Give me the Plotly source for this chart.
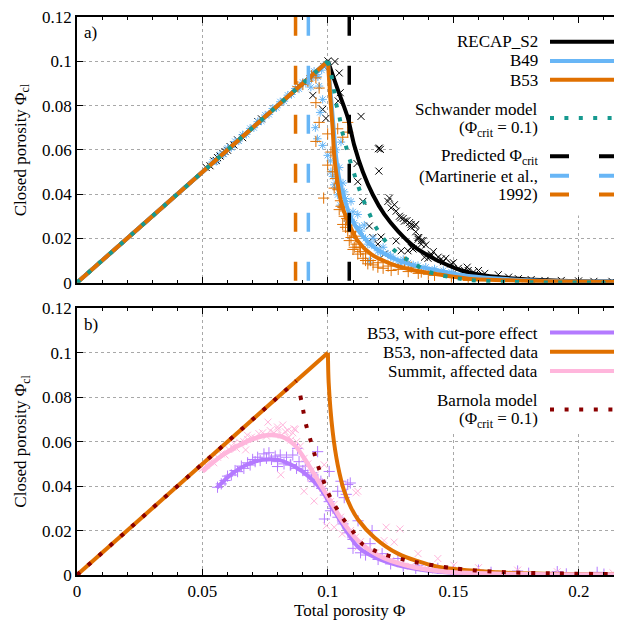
import plotly.graph_objects as go

FONT = "Liberation Serif"

# ---------------- panel a) data ----------------
rise_phi = [0.0, 0.1]
rise_cl = [0.0, 0.1]

recap_fit_phi = [0.1000, 0.1040, 0.1079, 0.1105, 0.1139, 0.1179, 0.1225, 0.1279, 0.1345, 0.1412, 0.1452, 0.1532, 0.1625, 0.1759, 0.1959, 0.2172]
recap_fit_cl = [0.1000, 0.0870, 0.0746, 0.0620, 0.0501, 0.0397, 0.0308, 0.0233, 0.0162, 0.0115, 0.0092, 0.0055, 0.0033, 0.0018, 0.0008, 0.0005]

b49_fit_phi = [0.1000, 0.1012, 0.1023, 0.1032, 0.1045, 0.1065, 0.1092, 0.1132, 0.1185, 0.1252, 0.1345, 0.1425, 0.1559, 0.1825, 0.2172]
b49_fit_cl = [0.1000, 0.0843, 0.0695, 0.0575, 0.0471, 0.0382, 0.0293, 0.0219, 0.0159, 0.0115, 0.0077, 0.0058, 0.0030, 0.0010, 0.0004]

b53_fit_phi = [0.1000, 0.1009, 0.1019, 0.1025, 0.1036, 0.1052, 0.1079, 0.1119, 0.1172, 0.1252, 0.1345, 0.1425, 0.1559, 0.1825, 0.2172]
b53_fit_cl = [0.1000, 0.0843, 0.0695, 0.0575, 0.0471, 0.0367, 0.0278, 0.0189, 0.0129, 0.0085, 0.0055, 0.0040, 0.0018, 0.0008, 0.0003]

schw_phi = [0.1000, 0.1012, 0.1023, 0.1032, 0.1045, 0.1056, 0.1085, 0.1119, 0.1139, 0.1161, 0.1185, 0.1216, 0.1252, 0.1292, 0.1345, 0.1399, 0.1452, 0.1566, 0.1739, 0.2172]
schw_cl = [0.1000, 0.0947, 0.0880, 0.0813, 0.0754, 0.0687, 0.0563, 0.0442, 0.0379, 0.0323, 0.0263, 0.0207, 0.0159, 0.0122, 0.0085, 0.0050, 0.0033, 0.0012, 0.0003, 0.0000]

crit_phi = [0.1085, 0.0922, 0.0871]   # RECAP_S2, B49, B53

recap_pts_phi = [0.0515, 0.0530, 0.0545, 0.0555, 0.0560, 0.0570, 0.0580, 0.0590, 0.0600, 0.0610, 0.0625, 0.0640, 0.0660, 0.0720, 0.0735,
                 0.0940, 0.0979, 0.0992, 0.0985, 0.1000, 0.1028, 0.1045, 0.1049, 0.1041, 0.1132, 0.1201, 0.1205, 0.1209, 0.1203, 0.1116,
                 0.1119, 0.1139, 0.1165, 0.1179, 0.1212, 0.1199, 0.1225, 0.1239, 0.1245, 0.1252, 0.1265, 0.1272, 0.1285, 0.1305, 0.1325,
                 0.1345, 0.1350, 0.1272, 0.1292, 0.1319, 0.1339, 0.1359, 0.1362, 0.1372, 0.1379, 0.1385, 0.1399, 0.1412, 0.1439, 0.1460,
                 0.1492, 0.1520, 0.1545, 0.1580, 0.1625, 0.1679, 0.1720, 0.1759, 0.1810, 0.1865, 0.1930, 0.1999, 0.2060, 0.2132,
                 0.1290, 0.1332, 0.1359, 0.1372, 0.1332, 0.1412, 0.1452, 0.1559,
                 0.1300, 0.1315, 0.1330, 0.1350, 0.1390, 0.1420, 0.1470, 0.1500, 0.1555, 0.1600]
recap_pts_cl = [0.0520, 0.0528, 0.0550, 0.0552, 0.0565, 0.0572, 0.0585, 0.0592, 0.0598, 0.0615, 0.0622, 0.0645, 0.0655, 0.0728, 0.0740,
                0.0846, 0.0783, 0.0742, 0.0975, 0.1002, 0.0999, 0.0947, 0.0858, 0.0821, 0.0751, 0.0605, 0.0608, 0.0602, 0.0504, 0.0538,
                0.0456, 0.0367, 0.0256, 0.0204, 0.0206, 0.0174, 0.0129, 0.0367, 0.0382, 0.0338, 0.0352, 0.0323, 0.0300, 0.0278, 0.0271,
                0.0256, 0.0263, 0.0189, 0.0144, 0.0144, 0.0152, 0.0196, 0.0204, 0.0174, 0.0190, 0.0115, 0.0110, 0.0129, 0.0115, 0.0095,
                0.0085, 0.0065, 0.0055, 0.0048, 0.0042, 0.0036, 0.0025, 0.0018, 0.0014, 0.0010, 0.0010, 0.0008, 0.0006, 0.0006,
                0.0293, 0.0263, 0.0204, 0.0190, 0.0159, 0.0122, 0.0107, 0.0055,
                0.0290, 0.0280, 0.0250, 0.0230, 0.0170, 0.0140, 0.0110, 0.0090, 0.0070, 0.0055]

b49_pts_phi = [0.0540, 0.0555, 0.0570, 0.0585, 0.0600, 0.0615, 0.0630, 0.0645, 0.0660, 0.0675, 0.0690, 0.0705, 0.0720, 0.0735, 0.0750,
               0.0765, 0.0780, 0.0795, 0.0810, 0.0825, 0.0840, 0.0855, 0.0870, 0.0885, 0.0900, 0.0912, 0.0925, 0.0935, 0.0945, 0.0955,
               0.0965, 0.0979, 0.0969, 0.0960, 0.0975, 0.0990, 0.0932, 0.0950, 0.0958,
               0.0979, 0.0999, 0.1012, 0.1025, 0.1039, 0.1052, 0.1032, 0.1045, 0.1060, 0.1070, 0.1092, 0.1079, 0.1100, 0.1119, 0.1132,
               0.1145, 0.1159, 0.1165, 0.1180, 0.1199, 0.1220, 0.1239, 0.1260, 0.1279, 0.1292, 0.1320, 0.1359, 0.1390, 0.1425, 0.1460,
               0.1492, 0.1540, 0.1600,
               0.1010, 0.1020, 0.1035, 0.1050, 0.1065, 0.1085, 0.1105, 0.1125, 0.1150, 0.1175, 0.1210, 0.1250, 0.1300, 0.1340]
b49_pts_cl = [0.0545, 0.0548, 0.0578, 0.0580, 0.0608, 0.0610, 0.0638, 0.0640, 0.0668, 0.0670, 0.0697, 0.0700, 0.0727, 0.0730, 0.0757,
              0.0760, 0.0787, 0.0790, 0.0817, 0.0820, 0.0847, 0.0850, 0.0877, 0.0875, 0.0905, 0.0900, 0.0915, 0.0925, 0.0955, 0.0940,
              0.0888, 0.0828, 0.0769, 0.0930, 0.0960, 0.0985, 0.0883, 0.0700, 0.0650,
              0.0620, 0.0575, 0.0501, 0.0442, 0.0397, 0.0635, 0.0600, 0.0520, 0.0450, 0.0380, 0.0367, 0.0278, 0.0320, 0.0308, 0.0233,
              0.0260, 0.0174, 0.0099, 0.0200, 0.0144, 0.0160, 0.0129, 0.0110, 0.0099, 0.0085, 0.0090, 0.0077, 0.0070, 0.0062, 0.0055,
              0.0048, 0.0035, 0.0025,
              0.0550, 0.0480, 0.0430, 0.0350, 0.0410, 0.0300, 0.0270, 0.0250, 0.0200, 0.0170, 0.0135, 0.0120, 0.0105, 0.0080]

b53_pts_phi = [0.0880, 0.0900, 0.0920, 0.0935, 0.0952, 0.0965, 0.0952, 0.0965, 0.0952, 0.0999, 0.1012, 0.0999, 0.1019, 0.0983,
               0.1025, 0.1052, 0.1059, 0.1079, 0.1092, 0.1112, 0.1119, 0.1159, 0.1199, 0.1252, 0.1039, 0.1079, 0.1079, 0.1059,
               0.1065, 0.1085, 0.1100, 0.1140, 0.1180, 0.1220, 0.1305, 0.1332, 0.1372, 0.1425, 0.1492, 0.1559, 0.1050, 0.1030,
               0.1070, 0.1095, 0.1105, 0.1130, 0.1150,
               0.1040, 0.1045, 0.1060, 0.1075, 0.1090, 0.1110, 0.1125, 0.1150, 0.1170, 0.1200, 0.1240, 0.1280, 0.1320, 0.1360, 0.1400]
b53_pts_cl = [0.0885, 0.0895, 0.0910, 0.0935, 0.0925, 0.0879, 0.0813, 0.0724, 0.0638, 0.0672, 0.0590, 0.0531, 0.0501, 0.0382,
              0.0427, 0.0345, 0.0263, 0.0233, 0.0204, 0.0174, 0.0129, 0.0085, 0.0070, 0.0055, 0.0695, 0.0724, 0.0680, 0.0657,
              0.0300, 0.0190, 0.0150, 0.0110, 0.0080, 0.0065, 0.0092, 0.0070, 0.0048, 0.0033, 0.0025, 0.0010, 0.0370, 0.0470,
              0.0250, 0.0230, 0.0160, 0.0140, 0.0100,
              0.0420, 0.0330, 0.0340, 0.0290, 0.0260, 0.0210, 0.0160, 0.0130, 0.0100, 0.0090, 0.0075, 0.0060, 0.0050, 0.0042, 0.0038]

# ---------------- panel b) data ----------------
barnola_rise_phi = [0.0, 0.0874]
barnola_rise_cl = [0.0, 0.0874]
barnola_phi = [0.0890, 0.0901, 0.0912, 0.0928, 0.0943, 0.0959, 0.0979, 0.0999, 0.1025, 0.1057, 0.1097, 0.1136, 0.1216, 0.1343, 0.1502, 0.1660, 0.1914, 0.2172]
barnola_cl = [0.0807, 0.0743, 0.0680, 0.0617, 0.0558, 0.0496, 0.0434, 0.0374, 0.0318, 0.0259, 0.0200, 0.0141, 0.0096, 0.0059, 0.0030, 0.0015, 0.0007, 0.0004]

nonaff_phi = [0.1000, 0.1003, 0.1019, 0.1039, 0.1065, 0.1092, 0.1120, 0.1184, 0.1279, 0.1438, 0.1676, 0.2000, 0.2172]
nonaff_cl = [0.1000, 0.0866, 0.0644, 0.0496, 0.0377, 0.0303, 0.0250, 0.0170, 0.0096, 0.0037, 0.0012, 0.0003, 0.0002]

cut_fit_phi = [0.0557, 0.0613, 0.0676, 0.0740, 0.0803, 0.0867, 0.0930, 0.0978, 0.1025, 0.1073, 0.1120, 0.1184, 0.1279, 0.1438, 0.1756, 0.2172]
cut_fit_cl = [0.0392, 0.0452, 0.0496, 0.0518, 0.0518, 0.0488, 0.0437, 0.0377, 0.0289, 0.0200, 0.0126, 0.0081, 0.0044, 0.0015, 0.0004, 0.0001]

summit_fit_phi = [0.0500, 0.0581, 0.0676, 0.0756, 0.0819, 0.0867, 0.0914, 0.0962, 0.1010, 0.1057, 0.1120, 0.1200, 0.1311, 0.1470, 0.1756, 0.2172]
summit_fit_cl = [0.0466, 0.0540, 0.0600, 0.0629, 0.0622, 0.0585, 0.0511, 0.0422, 0.0333, 0.0244, 0.0155, 0.0089, 0.0044, 0.0015, 0.0004, 0.0001]

cut_pts_phi = [0.0560, 0.0575, 0.0590, 0.0600, 0.0615, 0.0630, 0.0640, 0.0655, 0.0665, 0.0680, 0.0690, 0.0700, 0.0710, 0.0720, 0.0730,
               0.0745, 0.0755, 0.0765, 0.0775, 0.0790, 0.0800, 0.0810, 0.0825, 0.0835, 0.0850, 0.0860, 0.0875, 0.0885, 0.0900, 0.0910,
               0.0920, 0.0935, 0.0945, 0.0960, 0.0975, 0.0990, 0.1005, 0.1020, 0.1040, 0.1060, 0.1080, 0.1100,
               0.0799, 0.0852, 0.0879, 0.0959, 0.1005, 0.0972, 0.1052, 0.1079, 0.1039, 0.1065, 0.1089, 0.1073, 0.0986, 0.1010,
               0.1120, 0.1176, 0.1168, 0.1216, 0.1279, 0.1359, 0.1438, 0.1600, 0.1756, 0.1914, 0.2073, 0.1100, 0.1130, 0.1150,
               0.1200, 0.1250, 0.1300, 0.1350, 0.1400, 0.1500, 0.1650, 0.1800, 0.1950, 0.2100]
cut_pts_cl = [0.0395, 0.0410, 0.0425, 0.0445, 0.0450, 0.0470, 0.0465, 0.0490, 0.0480, 0.0505, 0.0495, 0.0520, 0.0510, 0.0530, 0.0515,
              0.0545, 0.0525, 0.0550, 0.0520, 0.0535, 0.0510, 0.0540, 0.0500, 0.0530, 0.0495, 0.0540, 0.0480, 0.0510, 0.0470, 0.0490,
              0.0450, 0.0460, 0.0420, 0.0430, 0.0390, 0.0360, 0.0330, 0.0300, 0.0260, 0.0230, 0.0190, 0.0160,
              0.0488, 0.0496, 0.0570, 0.0555, 0.0466, 0.0422, 0.0422, 0.0407, 0.0377, 0.0348, 0.0414, 0.0363, 0.0252, 0.0289,
              0.0244, 0.0200, 0.0141, 0.0096, 0.0074, 0.0044, 0.0030, 0.0022, 0.0018, 0.0015, 0.0012, 0.0120, 0.0100, 0.0090,
              0.0070, 0.0050, 0.0040, 0.0030, 0.0025, 0.0020, 0.0012, 0.0008, 0.0005, 0.0004]

summit_pts_phi = [0.0500, 0.0515, 0.0530, 0.0545, 0.0560, 0.0575, 0.0590, 0.0605, 0.0620, 0.0635, 0.0650, 0.0665, 0.0680, 0.0695, 0.0710,
                  0.0725, 0.0740, 0.0755, 0.0770, 0.0785, 0.0800, 0.0815, 0.0830, 0.0845, 0.0860, 0.0875, 0.0890, 0.0905, 0.0920, 0.0935,
                  0.0950, 0.0965, 0.0980, 0.0995, 0.1010, 0.1030, 0.1050, 0.1070, 0.1090, 0.1110, 0.1130, 0.1160, 0.1190, 0.1220, 0.1250,
                  0.1290, 0.1330, 0.1380, 0.1430, 0.1500,
                  0.0761, 0.0799, 0.0679, 0.0672, 0.0625, 0.0865, 0.0852, 0.0812, 0.0905, 0.0932, 0.0985, 0.1119, 0.0945, 0.1025,
                  0.1112, 0.1232, 0.1287, 0.1224, 0.1264, 0.1438, 0.1502, 0.1600, 0.1359, 0.1756, 0.1914, 0.2136, 0.1025, 0.1057,
                  0.0994, 0.1120, 0.0870, 0.0840, 0.0820]
summit_pts_cl = [0.0480, 0.0495, 0.0510, 0.0505, 0.0530, 0.0545, 0.0540, 0.0565, 0.0575, 0.0570, 0.0595, 0.0600, 0.0610, 0.0620, 0.0615,
                 0.0636, 0.0640, 0.0625, 0.0650, 0.0640, 0.0655, 0.0630, 0.0645, 0.0620, 0.0640, 0.0600, 0.0580, 0.0525, 0.0500, 0.0470,
                 0.0450, 0.0420, 0.0390, 0.0360, 0.0330, 0.0290, 0.0260, 0.0230, 0.0200, 0.0170, 0.0150, 0.0120, 0.0100, 0.0080, 0.0065,
                 0.0050, 0.0040, 0.0030, 0.0022, 0.0015,
                 0.0688, 0.0666, 0.0629, 0.0563, 0.0592, 0.0658, 0.0607, 0.0451, 0.0377, 0.0436, 0.0496, 0.0377, 0.0333, 0.0318,
                 0.0370, 0.0215, 0.0207, 0.0155, 0.0148, 0.0074, 0.0044, 0.0033, 0.0096, 0.0022, 0.0015, 0.0010, 0.0215, 0.0185,
                 0.0222, 0.0126, 0.0655, 0.0650, 0.0675]

# ---------------- styling ----------------
BLACK = "#000000"
BLUE = "#68b6f6"
ORANGE = "#e07000"
TEAL = "#16998f"
PURPLE = "#b47aff"
PINK = "#ffb6dc"
DARKRED = "#8b0000"

fig = go.Figure()


def add(x, y, xa, ya, **kw):
    fig.add_trace(go.Scatter(x=x, y=y, xaxis=xa, yaxis=ya, showlegend=False, hoverinfo="skip", **kw))


def pts(x, y, xa, ya, color, symbol, size=7):
    add(x, y, xa, ya, mode="markers",
        marker=dict(symbol=symbol, size=size, color=color, line=dict(color=color, width=1)))


def curve(x, y, xa, ya, color, width=4, dash="solid", shape="spline"):
    add(x, y, xa, ya, mode="lines",
        line=dict(color=color, width=width, dash=dash, shape=shape, smoothing=0.8 if shape == "spline" else None))


# panel a
pts(recap_pts_phi, recap_pts_cl, "x2", "y2", BLACK, "x-thin", 7)
pts(b49_pts_phi, b49_pts_cl, "x2", "y2", BLUE, "asterisk", 7)
pts(b53_pts_phi, b53_pts_cl, "x2", "y2", ORANGE, "cross-thin", 8)
curve(rise_phi, rise_cl, "x2", "y2", BLACK, shape="linear")
curve(recap_fit_phi, recap_fit_cl, "x2", "y2", BLACK)
curve(rise_phi, rise_cl, "x2", "y2", BLUE, shape="linear")
curve(b49_fit_phi, b49_fit_cl, "x2", "y2", BLUE)
curve(rise_phi, rise_cl, "x2", "y2", ORANGE, shape="linear")
curve(b53_fit_phi, b53_fit_cl, "x2", "y2", ORANGE)
curve(rise_phi, rise_cl, "x2", "y2", TEAL, dash="4px,10.4px", shape="linear")
curve(schw_phi, schw_cl, "x2", "y2", TEAL, dash="4px,10.4px")
for phi_c, col in zip(crit_phi, [BLACK, BLUE, ORANGE]):
    curve([phi_c, phi_c], [0.0009, 0.12], "x2", "y2", col, width=3.5, dash="19px,30px", shape="linear")

# panel b
pts(cut_pts_phi, cut_pts_cl, "x", "y", PURPLE, "cross-thin", 8)
pts(summit_pts_phi, summit_pts_cl, "x", "y", PINK, "x-thin", 7)
curve(cut_fit_phi, cut_fit_cl, "x", "y", PURPLE)
curve(rise_phi, rise_cl, "x", "y", ORANGE, shape="linear")
curve(nonaff_phi, nonaff_cl, "x", "y", ORANGE)
curve(summit_fit_phi, summit_fit_cl, "x", "y", PINK, width=4.5)
curve(barnola_rise_phi, barnola_rise_cl, "x", "y", DARKRED, dash="4px,10.6px", shape="linear")
curve(barnola_phi, barnola_cl, "x", "y", DARKRED, dash="4px,10.6px")

X_MAX = 0.2172
TICKFONT = dict(family=FONT, size=17, color="black")
xcommon = dict(range=[0, X_MAX], dtick=0.05, tick0=0, showgrid=True, gridcolor="#a8a8a8", griddash="dot", gridwidth=1,
               zeroline=False, showline=True, linecolor="black", linewidth=1.5, mirror="allticks",
               ticks="inside", ticklen=6, tickwidth=1, tickcolor="black", tickfont=TICKFONT,
               minor=dict(dtick=0.01, ticks="inside", ticklen=3, tickwidth=1, tickcolor="black", showgrid=False))
ycommon = dict(range=[0, 0.12], dtick=0.02, tick0=0, showgrid=True, gridcolor="#a8a8a8", griddash="dot", gridwidth=1,
               zeroline=False, showline=True, linecolor="black", linewidth=1.5, mirror=False,
               ticks="inside", ticklen=6, tickwidth=1, tickcolor="black", tickfont=TICKFONT,
               ticklabeloverflow="allow")

TOP_DOM = [0.5239, 1.0]
BOT_DOM = [0.0, 0.4779]

# page body has an 8px margin: figure occupies window pixels 8..622 x 8..624
fig.update_layout(
    width=614, height=616,
    margin=dict(l=69, r=0, t=2, b=49),
    paper_bgcolor="white", plot_bgcolor="white",
    font=dict(family=FONT, size=17, color="black"),
    xaxis=dict(anchor="y", domain=[0, 1], **xcommon),
    yaxis=dict(anchor="x", domain=BOT_DOM, **ycommon),
    xaxis2=dict(anchor="y2", domain=[0, 1], showticklabels=False, **xcommon),
    yaxis2=dict(anchor="x2", domain=TOP_DOM, **ycommon),
)

# opaque key boxes (hide grid behind the keys)
fig.add_shape(type="rect", xref="x2", yref="y2", x0=0.1267, x1=X_MAX, y0=0.0303, y1=0.12,
              fillcolor="white", line=dict(width=0), layer="between")
fig.add_shape(type="rect", xref="x", yref="y", x0=0.1163, x1=X_MAX, y0=0.0644, y1=0.12,
              fillcolor="white", line=dict(width=0), layer="between")


def py(p):  # window pixel row -> paper y
    return (575 - p) / 565


def px(p):  # window pixel column -> paper x
    return (p - 77) / 545


TXT_X = px(540)
L0, L1 = px(550), px(615)
KEYFONT = dict(family=FONT, size=17, color="black")

key_a = [
    ("RECAP_S2", 35, BLACK, "solid", 35),
    ("B49", 54.5, BLUE, "solid", 54.5),
    ("B53", 74, ORANGE, "solid", 73.5),
    ("Schwander model", 104, TEAL, "4px,10.4px", 112.3),
    ("(Φ<sub>crit</sub> = 0.1)", 123, None, None, None),
    ("Predicted Φ<sub>crit</sub>", 152, BLACK, "19px,30px", 151),
    ("(Martinerie et al.,", 171, BLUE, "19px,30px", 170.7),
    ("1992)", 190, ORANGE, "19px,30px", 189.7),
]
key_b = [
    ("B53, with cut-pore effect", 330.7, PURPLE, "solid", 329.5),
    ("B53, non-affected data", 350, ORANGE, "solid", 349),
    ("Summit, affected data", 369.3, PINK, "solid", 368.5),
    ("Barnola model", 398.3, DARKRED, "4px,10.6px", 407.3),
    ("(Φ<sub>crit</sub> = 0.1)", 418.3, None, None, None),
]
for text, ty, col, dash, ly in key_a + key_b:
    fig.add_annotation(xref="paper", yref="paper", x=TXT_X, y=py(ty), text=text, showarrow=False,
                       xanchor="right", yanchor="middle", font=KEYFONT)
    if col is not None:
        fig.add_shape(type="line", xref="paper", yref="paper", x0=L0, x1=L1, y0=py(ly), y1=py(ly),
                      line=dict(color=col, width=4, dash=dash))

fig.add_annotation(xref="paper", yref="paper", x=px(82), y=py(26), text="a)", showarrow=False,
                   xanchor="left", yanchor="middle", font=KEYFONT)
fig.add_annotation(xref="paper", yref="paper", x=px(82), y=py(321.7), text="b)", showarrow=False,
                   xanchor="left", yanchor="middle", font=KEYFONT)

for yc in (145, 440):
    fig.add_annotation(xref="paper", yref="paper", x=px(22), y=py(yc), text="Closed porosity Φ<sub>cl</sub>",
                       textangle=-90, showarrow=False, xanchor="center", yanchor="middle", font=KEYFONT)
fig.add_annotation(xref="paper", yref="paper", x=0.5, y=py(611), text="Total porosity Φ", showarrow=False,
                   xanchor="center", yanchor="middle", font=KEYFONT)

fig.write_html("out.html")
